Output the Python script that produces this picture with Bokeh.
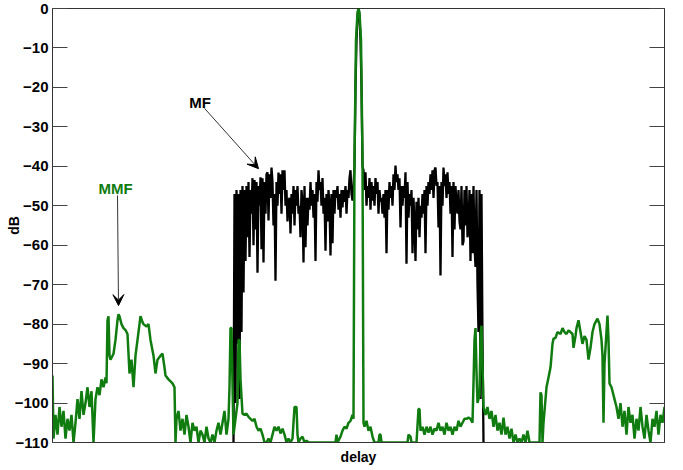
from bokeh.plotting import figure
from bokeh.models import Range1d, FixedTicker, LinearAxis, Arrow, VeeHead, Label
from bokeh.embed import file_html
from bokeh.resources import INLINE

# ---------------- data ----------------
y_ticks = [-110, -100, -90, -80, -70, -60, -50, -40, -30, -20, -10, 0]

# MMF (green) trace: delay sample positions and levels in dB
mmf_x = [0, 1, 3, 5, 7, 9, 11, 13, 15, 17, 19, 21, 23, 25, 27, 29, 31, 33, 35, 37, 39, 41, 43, 45, 47, 49, 51,
         53, 54, 55, 56, 57, 58, 60, 61, 63, 65, 66, 67, 69, 71, 73, 75, 77, 79, 81, 83, 85, 87, 88, 90, 91,
         94, 96, 98, 100, 101, 103, 105, 108, 110, 112, 113, 116, 118, 120, 122, 123,
         124, 126, 128, 130, 132, 134, 136, 138, 140, 142, 144, 146, 148, 150, 152, 154, 156, 158, 160, 162,
         164, 166, 168, 170, 172, 174, 176, 177, 178, 179, 180, 181, 183, 185, 186, 187, 188, 190, 192, 194,
         196, 198, 200, 202, 204, 206, 208, 210, 212, 214, 216, 218, 220, 222, 224, 226, 228, 230, 232, 234,
         236, 238, 240, 242, 244, 245, 246, 248, 250, 252, 254, 256, 283, 284, 285, 288, 290, 292, 294, 296,
         298, 300, 301, 302, 303.5, 305, 306, 307, 308.5, 310, 311, 312, 314, 316, 318, 320, 322, 326,
         327, 328, 329, 355, 356, 358, 359, 364, 366, 367, 368, 370, 372, 374, 376, 378, 380, 382, 384, 386,
         388, 390, 392, 394, 396, 398, 400, 402, 404, 406, 408, 410, 412, 414, 416, 418, 420, 421, 422, 423,
         424, 425, 427, 428, 429, 430, 431, 433, 435, 437, 439, 441, 443, 445, 447, 449, 451, 453, 455, 457,
         459, 461, 463, 465, 467, 469, 471, 473, 475, 477, 479, 481, 487, 488, 489, 490, 491, 494, 496, 498,
         500, 501, 503, 505, 508, 510, 512, 514, 516, 518, 520, 521, 523, 524, 526, 528, 530, 532, 534, 536,
         538, 540, 542, 545, 547, 549, 550, 551, 552, 553, 555, 556, 557, 559, 560, 562, 564, 566, 568, 570,
         572, 574, 576, 578, 580, 582, 584, 586, 588, 590, 592, 594, 596, 598, 600, 602, 604, 606, 608, 610, 612]
mmf_db = [-93, -109, -103, -108, -101, -106, -102, -109, -104, -107, -103, -110, -105, -99, -104, -97, -103, -100,
          -96, -101, -97, -110, -99, -96, -98, -94, -96,
          -93.5, -95, -79, -78, -88, -89, -88, -87.5, -84, -79, -77.5, -78, -80, -81, -81.5, -82.5, -92.5, -89,
          -96, -88, -84, -80, -78, -79.5, -80,
          -80.6, -80, -84, -86.7, -88, -92.5, -89, -88, -87.5, -91, -93, -94, -94.5, -95, -96, -110,
          -104, -102, -107, -104, -108, -103, -106, -110, -105, -107, -106, -110, -107, -108, -110, -106, -109,
          -110, -108, -110,
          -107, -105, -108, -105, -102, -108, -104, -96, -81, -81, -95, -108, -104, -100, -84, -84, -94, -102.7,
          -103, -102.7,
          -103.5, -104, -104.5, -104, -106, -107, -106.5, -108, -110, -110, -109, -110, -108, -106, -107, -106,
          -107.7, -106.5, -108, -110,
          -109, -110, -109, -101, -101, -108, -110, -109, -108.5, -110, -109.5, -110, -110, -108, -110, -108.5,
          -107, -106, -106.5, -105,
          -104.5, -103, -104, -38, -8, -1, 0, -1, -8, -38, -105, -106, -104.5, -107, -106, -108.5,
          -110, -110,
          -108, -108, -110, -110, -108, -108.5, -110, -110, -101.5, -101.5, -107, -106, -108, -106, -107.5, -106,
          -108, -106.5, -107, -105,
          -107, -106, -108, -105, -107, -106, -108, -106, -107, -104.5, -106, -105, -104, -104, -103.7, -104,
          -105, -95, -84, -81,
          -92, -100, -98, -83, -80.4, -90, -101, -103, -101, -104, -102, -106, -103, -107, -105, -108, -103.7,
          -108, -106, -109,
          -106.5, -110, -108, -110, -109, -110, -108, -110, -107, -110, -110, -110, -110, -97.3, -98, -110, -105,
          -96, -93.5, -91,
          -85, -83.7, -83.5, -82, -82.5, -81, -82, -82.5, -81.6, -82, -82.5, -86, -83, -81, -79, -82, -85, -83,
          -84, -89,
          -86, -82, -80, -78.6, -80, -84, -88, -105, -90, -86, -77.8, -84, -95, -96, -97, -99, -101, -104, -100,
          -106,
          -102, -108, -101, -105, -103, -109, -104, -107, -101, -106, -109, -103, -107, -110, -104, -106, -102,
          -108, -103, -105, -101]

# MF (black) trace: uniformly sampled, one sample per delay unit starting at mf_start
mf_start = 181
mf_db = [-110, -47, -100, -46, -85, -47, -99, -46, -82, -45,
         -72, -46, -64, -45, -58, -44, -63, -46, -52, -43,
         -60, -43.5, -56, -44, -67, -45, -50, -42.8, -61, -43,
         -64.4, -44, -52, -42, -41.5, -53.7, -42, -48, -40.3, -44,
         -55, -47, -69, -44, -50, -41.6, -47, -42, -52, -41,
         -46, -41, -50, -46, -54, -49, -48, -57, -47, -52,
         -45, -55, -46, -50, -45, -52, -50, -58, -46, -49,
         -64.4, -45, -60.5, -48, -55, -48, -51, -44, -50, -46,
         -53, -47, -64, -44, -49, -41, -46, -44, -50, -43,
         -52, -48, -61.4, -47, -54, -46, -50, -62.6, -47, -59.5,
         -46, -52, -46, -48, -45, -51, -47, -53, -46, -50.4,
         -46, -49, -45, -52, -46, -48, -43, -41, -47, -48.7,
         -45, -40, -20, -8, -2, 0, -2, -8, -20, -40,
         -41, -46, -41.5, -50, -45, -48, -43, -51, -44, -48.7,
         -45, -50, -43, -47, -44, -52, -46, -49, -48, -52,
         -47, -53, -46, -62, -46, -51, -44, -48, -45, -50,
         -42, -46, -39.8, -44, -42, -46, -43, -55.5, -45, -50,
         -45, -48, -41.5, -64.7, -44, -53, -47, -50, -46, -62,
         -48, -55, -64, -49, -56, -48, -58, -50, -53, -47,
         -52, -46, -62, -45, -50, -44, -47, -42, -46, -41,
         -48, -41, -40.3, -45, -44, -55.5, -45, -67.7, -44, -50,
         -40.3, -45, -42, -48, -41.5, -47, -44, -52, -45, -63,
         -44, -56, -45, -50, -52, -46, -54, -56, -45, -60,
         -59, -46, -55, -45, -58, -56, -46, -64, -47, -62,
         -45, -60, -65.5, -46, -70, -82, -46, -99, -47, -84,
         -110]
mf_x = [mf_start + i for i in range(len(mf_db))]

GREEN = "#107c10"
FONT = "Liberation Sans"

p = figure(width=683, height=470, output_backend="svg", toolbar_location=None,
           x_range=Range1d(0, 612), y_range=Range1d(-110, 0),
           min_border_left=52, min_border_right=19, min_border_top=8, min_border_bottom=28,
           background_fill_color="white", border_fill_color="white")
p.grid.visible = False
p.outline_line_color = "#333333"

# left axis
p.yaxis.ticker = FixedTicker(ticks=y_ticks)
p.yaxis.major_tick_in = 15
p.yaxis.major_tick_out = 0
p.yaxis.minor_tick_line_color = None
p.yaxis.major_label_standoff = 4
p.yaxis.major_label_text_font = FONT
p.yaxis.major_label_text_font_style = "bold"
p.yaxis.major_label_text_font_size = "15px"
p.yaxis.major_label_text_color = "black"
p.yaxis.axis_label = "dB"
p.yaxis.axis_label_text_font = FONT
p.yaxis.axis_label_text_font_style = "bold"
p.yaxis.axis_label_text_font_size = "14px"
p.yaxis.axis_label_text_color = "black"
p.yaxis.axis_label_standoff = -10
p.yaxis.axis_line_color = "#333333"
p.yaxis.major_tick_line_color = "#444444"

# bottom axis
p.xaxis.ticker = FixedTicker(ticks=[])
p.xaxis.minor_tick_line_color = None
p.xaxis.axis_label = "delay"
p.xaxis.axis_label_text_font = FONT
p.xaxis.axis_label_text_font_style = "bold"
p.xaxis.axis_label_text_font_size = "14px"
p.xaxis.axis_label_text_color = "black"
p.xaxis.axis_label_standoff = 6
p.xaxis.axis_line_color = "#333333"

# right axis with inward ticks, no labels
ra = LinearAxis(ticker=FixedTicker(ticks=y_ticks), major_tick_in=15, major_tick_out=0,
                minor_tick_line_color=None, major_label_overrides={t: "" for t in y_ticks},
                axis_line_color="#333333", major_tick_line_color="#444444")
p.add_layout(ra, "right")

# traces
p.line(mf_x, mf_db, line_color="black", line_width=2.3)
p.line(mmf_x, mmf_db, line_color=GREEN, line_width=2.5)

# annotations
p.add_layout(Arrow(end=VeeHead(size=11, fill_color="black", line_color="black"),
                   x_start=152, y_start=-25.3, x_end=206, y_end=-40.6,
                   line_color="#333333", line_width=1))
p.add_layout(Arrow(end=VeeHead(size=11, fill_color="black", line_color="black"),
                   x_start=65, y_start=-47.4, x_end=66, y_end=-75.3,
                   line_color="#333333", line_width=1))
p.add_layout(Label(x=147.5, y=-23.8, text="MF", text_align="center", text_baseline="alphabetic",
                   text_font=FONT, text_font_style="bold", text_font_size="15px", text_color="black"))
p.add_layout(Label(x=63, y=-45.5, text="MMF", text_align="center", text_baseline="alphabetic",
                   text_font=FONT, text_font_style="bold", text_font_size="15px", text_color=GREEN))

open("out.html", "w").write(file_html(p, INLINE))
